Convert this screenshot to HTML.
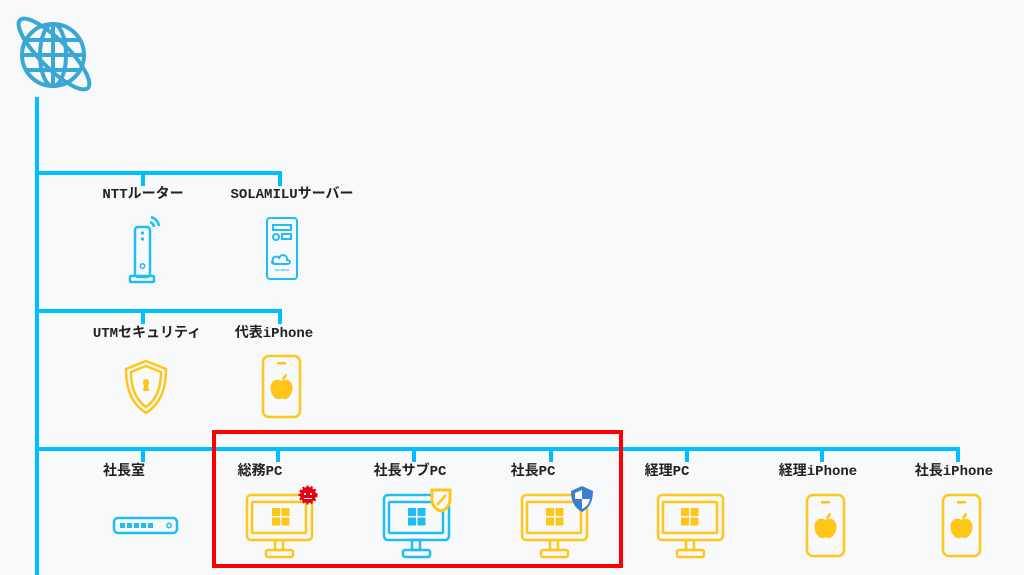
<!DOCTYPE html>
<html><head><meta charset="utf-8"><style>
body{margin:0;background:#f8f9fb;}
svg{display:block}
text{font-family:"Liberation Mono","Noto Sans CJK JP",monospace;font-size:14px;font-weight:bold;fill:#222;text-anchor:middle}
</style></head><body>
<svg width="1024" height="575" viewBox="0 0 1024 575">
<defs>
<g id="pc" fill="none" stroke-width="2.5">
<rect x="0" y="0" width="65" height="45" rx="4"/>
<rect x="5" y="7" width="54" height="31" rx="1"/>
<rect x="28" y="45" width="8" height="10"/>
<rect x="19" y="55" width="27" height="7" rx="2"/>
</g>
<g id="win"><rect x="0" y="0" width="8" height="8"/><rect x="9.5" y="0" width="8" height="8"/><rect x="0" y="9.5" width="8" height="8"/><rect x="9.5" y="9.5" width="8" height="8"/></g>
<g id="phone"><rect x="0" y="0" width="37" height="61" rx="6" fill="none" stroke="#ffc61a" stroke-width="2.5"/><rect x="14" y="6" width="9" height="2.5" fill="#ffc61a"/>
<path d="M18.5 25 c-4 -3 -11 -1 -11 7 c0 7 6 14 11 10 c5 4 11 -3 11 -10 c0 -8 -7 -10 -11 -7z M19 24 c0 -4 3 -6 5 -6 c0 4 -3 6 -5 6z" fill="#ffc61a"/></g>
</defs>
<!-- globe -->
<g stroke="#3aa8d4" stroke-width="4" fill="none">
<circle cx="53" cy="55" r="31"/>
<ellipse cx="53" cy="55" rx="13" ry="31"/>
<line x1="22" y1="55" x2="84" y2="55"/>
<line x1="53" y1="24" x2="53" y2="86"/>
<line x1="27" y1="40" x2="79" y2="40"/><line x1="27" y1="70" x2="79" y2="70"/>
<ellipse cx="54" cy="54" rx="48" ry="14" transform="rotate(45 54 54)"/>
</g>
<!-- lines -->
<g stroke="#00bfff" stroke-width="4" fill="none">
<line x1="37" y1="97" x2="37" y2="575"/>
<path d="M37 173 H280 V186 M143 173 V186"/>
<path d="M37 311 H280 V324 M143 311 V324"/>
<path d="M37 449 H958 V462 M143 449 V462 M278 449 V462 M414 449 V462 M551 449 V462 M687 449 V462 M822 449 V462"/>
</g>
<text x="143" y="198">NTTルーター</text>
<text x="292" y="198">SOLAMILUサーバー</text>
<text x="147" y="337">UTMセキュリティ</text>
<text x="274" y="337">代表iPhone</text>
<text x="124" y="475">社長室</text>
<text x="260" y="475">総務PC</text>
<text x="410" y="475">社長サブPC</text>
<text x="533" y="475">社長PC</text>
<text x="667" y="475">経理PC</text>
<text x="818" y="475">経理iPhone</text>
<text x="954" y="475">社長iPhone</text>
<!-- router -->
<g stroke="#1ebef5" stroke-width="2.5" fill="none">
<rect x="135" y="227" width="15" height="50" rx="3"/><rect x="130" y="276" width="24" height="6" rx="1"/>
<path d="M150 222 a6 6 0 0 1 4 5 M151 217 a11 11 0 0 1 8 9"/>
</g>
<g fill="#1ebef5"><circle cx="142.5" cy="233" r="1.6"/><circle cx="142.5" cy="239" r="1.6"/></g>
<circle cx="142.5" cy="266" r="2.2" fill="none" stroke="#1ebef5" stroke-width="1.5"/>
<!-- server -->
<g stroke="#1ebef5" stroke-width="2" fill="none">
<rect x="267" y="218" width="30" height="61" rx="3"/>
<rect x="273" y="225" width="18" height="5"/><circle cx="276" cy="237" r="3"/><rect x="282" y="234" width="9" height="5"/>
<path d="M273 262 c-2 -5 4 -7 6 -4 c2 -5 9 -3 8 2 c4 0 4 4 0 4 h-12 c-3 0 -4 -3 -2 -2z"/>
</g>
<text x="282" y="271" style="font-size:3px;fill:#1ebef5">SOLAMILU</text>
<!-- UTM shield -->
<g stroke="#ffc61a" stroke-width="2.5" fill="none">
<path d="M146 361 L166 369 C166 390 160 404 146 413 C132 404 126 390 126 369Z"/>
<path d="M146 366 L161 372 C161 389 156 400 146 407 C136 400 131 389 131 372Z"/>
</g>
<path d="M146 379 a3.5 3.5 0 0 1 2 6 l1 6 h-6 l1 -6 a3.5 3.5 0 0 1 2 -6z" fill="#ffc61a"/>
<use href="#phone" x="263" y="356"/>
<!-- switch -->
<rect x="114" y="518" width="63" height="15" rx="4" fill="none" stroke="#1ebef5" stroke-width="2.5"/>
<g fill="#1ebef5"><rect x="120" y="523" width="5" height="5"/><rect x="127" y="523" width="5" height="5"/><rect x="134" y="523" width="5" height="5"/><rect x="141" y="523" width="5" height="5"/><rect x="148" y="523" width="5" height="5"/></g>
<circle cx="169" cy="525.5" r="2.2" fill="none" stroke="#1ebef5" stroke-width="1.5"/>
<!-- PCs -->
<use href="#pc" x="247" y="495" stroke="#ffc61a"/><use href="#win" x="272" y="508" fill="#ffc61a"/>
<use href="#pc" x="384" y="495" stroke="#1ebef5"/><use href="#win" x="408" y="508" fill="#1ebef5"/>
<use href="#pc" x="522" y="495" stroke="#ffc61a"/><use href="#win" x="546" y="508" fill="#ffc61a"/>
<use href="#pc" x="658" y="495" stroke="#ffc61a"/><use href="#win" x="681" y="508" fill="#ffc61a"/>
<!-- virus -->
<circle cx="308" cy="495" r="8" fill="#e60012" stroke="#e60012" stroke-width="3" stroke-dasharray="2 2"/>
<rect x="304" y="493" width="2" height="2" fill="#fff"/><rect x="310" y="493" width="2" height="2" fill="#fff"/><rect x="304" y="498" width="8" height="1" fill="#fff"/>
<!-- yellow shield -->
<path d="M432 490 H450 V500 C450 506 445 510 441 511 C437 510 432 506 432 500Z" fill="#f8f9fb" stroke="#ffc61a" stroke-width="3"/>
<line x1="437" y1="505" x2="446" y2="495" stroke="#ffc61a" stroke-width="2.5"/>
<!-- blue shield -->
<path d="M582 486 L593 491 C593 502 589 508 582 512 C575 508 571 502 571 491Z" fill="#3a7fd0"/>
<path d="M582 490 V499 H575 V493Z M582 499 H590 C589 504 586 507 582 509Z" fill="#fff"/>
<use href="#phone" x="807" y="495"/>
<use href="#phone" x="943" y="495"/>
<!-- red box -->
<rect x="214" y="432" width="407" height="134" fill="none" stroke="#ff0000" stroke-width="4"/>
</svg>
</body></html>
